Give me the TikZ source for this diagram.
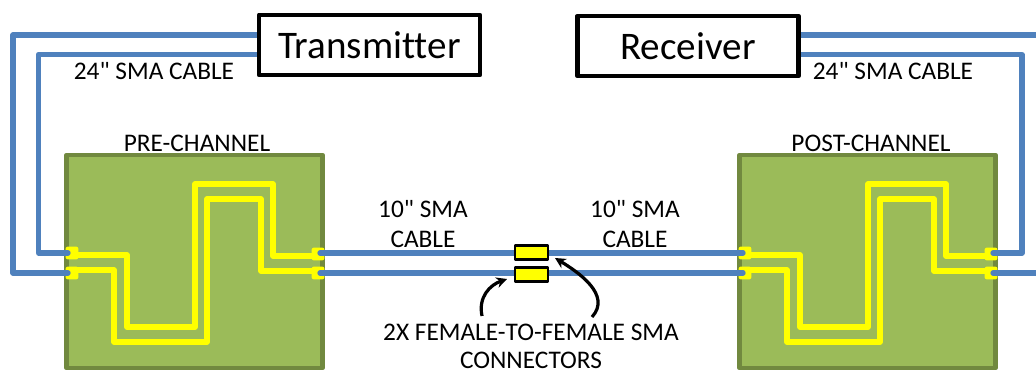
\documentclass[tikz,border=0pt]{standalone}
\usepackage{fontspec}
\setmainfont{Carlito}[Ligatures={NoCommon,TeXOff}]
\usetikzlibrary{arrows.meta}
\definecolor{cable}{HTML}{4F81BD}
\definecolor{boardfill}{HTML}{9BBB59}
\definecolor{boardline}{HTML}{71893F}
\definecolor{trace}{HTML}{FFFF00}
\tikzset{
  x=0.75pt,y=-0.75pt,
  instrument/.style={draw=black,line width=3.6pt,fill=white,inner sep=0pt,minimum width=165.75pt,minimum height=45pt,font=\fontsize{29.3}{32}\selectfont,line join=round},
  board/.style={draw=boardline,fill=boardfill,line width=3.6pt,inner sep=0pt,minimum width=191.5pt,minimum height=159.75pt,line join=round},
  pad/.style={fill=trace,rounded corners=1.5pt,inner sep=0pt,minimum width=9.5pt,minimum height=9.5pt},
  adapter/.style={draw=black,fill=trace,line width=1.7pt,inner sep=0pt,minimum width=25pt,minimum height=10.5pt,line join=round},
  wire/.style={draw=cable,line width=4pt,line join=round,line cap=round},
  tracewire/.style={draw=trace,line width=4pt,line join=round},
  pointer/.style={draw=black,line width=2.4pt,-{Stealth[length=8pt,width=8pt]}},
  lbl/.style={inner sep=0pt,font=\fontsize{19}{21}\selectfont},
}
\begin{document}
\begin{tikzpicture}
\useasboundingbox (0,0) rectangle (1036,373);
% boards
\node[board] (preboard) at (194.5,261.5) {};
\node[board] (postboard) at (867.5,261.5) {};
% pads
\node[pad] (p1) at (72,253) {};
\node[pad] (p2) at (72,273) {};
\node[pad] (p3) at (318,254) {};
\node[pad] (p4) at (318,273) {};
\node[pad] (p5) at (745,253) {};
\node[pad] (p6) at (745,273) {};
\node[pad] (p7) at (991,254) {};
\node[pad] (p8) at (991,273) {};
% traces
\draw[tracewire] (p1.center) ++(0,2) -- (127,255) -- (127,327) -- (195,327) -- (195,184) -- (273,184) -- (273,256) -- (318,256);
\draw[tracewire] (p2.center) ++(0,-3) -- (114,270) -- (114,342) -- (207,342) -- (207,199) -- (261,199) -- (261,271) -- (318,271);
\draw[tracewire] (p5.center) ++(0,2) -- (800,255) -- (800,327) -- (868,327) -- (868,184) -- (946,184) -- (946,256) -- (991,256);
\draw[tracewire] (p6.center) ++(0,-3) -- (787,270) -- (787,342) -- (880,342) -- (880,199) -- (934,199) -- (934,271) -- (991,271);
% cables
\coordinate (txa) at (259,35);
\coordinate (txb) at (259,54.5);
\coordinate (rxa) at (798,35);
\coordinate (rxb) at (798,54.5);
\coordinate (edgea) at (1040,35);
\coordinate (edgeb) at (1040,273);
\draw[wire] (txa) -- (13,35) -- (13,273) -- (68,273);
\draw[wire] (txb) -- (38.5,54.5) -- (38.5,253) -- (68,253);
\draw[wire] (rxa) -- (edgea);
\draw[wire] (rxb) -- (1022,54.5) -- (1022,253) -- (993,253);
\draw[wire] (993,273) -- (edgeb);
\draw[wire] (320,253) -- (743,253);
\draw[wire] (320,273) -- (743,273);
% instruments
\node[instrument] (tx) at (369.5,45) {Transmitter};
\node[instrument] (rx) at (688,46) {Receiver};
% adapters
\node[adapter] (a1) at (531.5,252.5) {};
\node[adapter] (a2) at (531.5,274.5) {};
% labels
\node[lbl] (l1) at (154,71) {24" SMA CABLE};
\node[lbl] (l2) at (893,71) {24" SMA CABLE};
\node[lbl] (l3) at (197,143) {PRE-CHANNEL};
\node[lbl] (l4) at (871,143) {POST-CHANNEL};
\node[lbl] (l5) at (423,209) {10" SMA};
\node[lbl] (l6) at (423,239) {CABLE};
\node[lbl] (l7) at (635,209) {10" SMA};
\node[lbl] (l8) at (635,239) {CABLE};
\node[lbl] (l9) at (531,332) {2X FEMALE-TO-FEMALE SMA};
\node[lbl] (l10) at (531,360.5) {CONNECTORS};
% pointers
\draw[pointer] (482,316) .. controls (478,297) and (490,285) .. (507,279);
\draw[pointer] (592,317) .. controls (612,295) and (578,272) .. (555,258);
\end{tikzpicture}
\end{document}
